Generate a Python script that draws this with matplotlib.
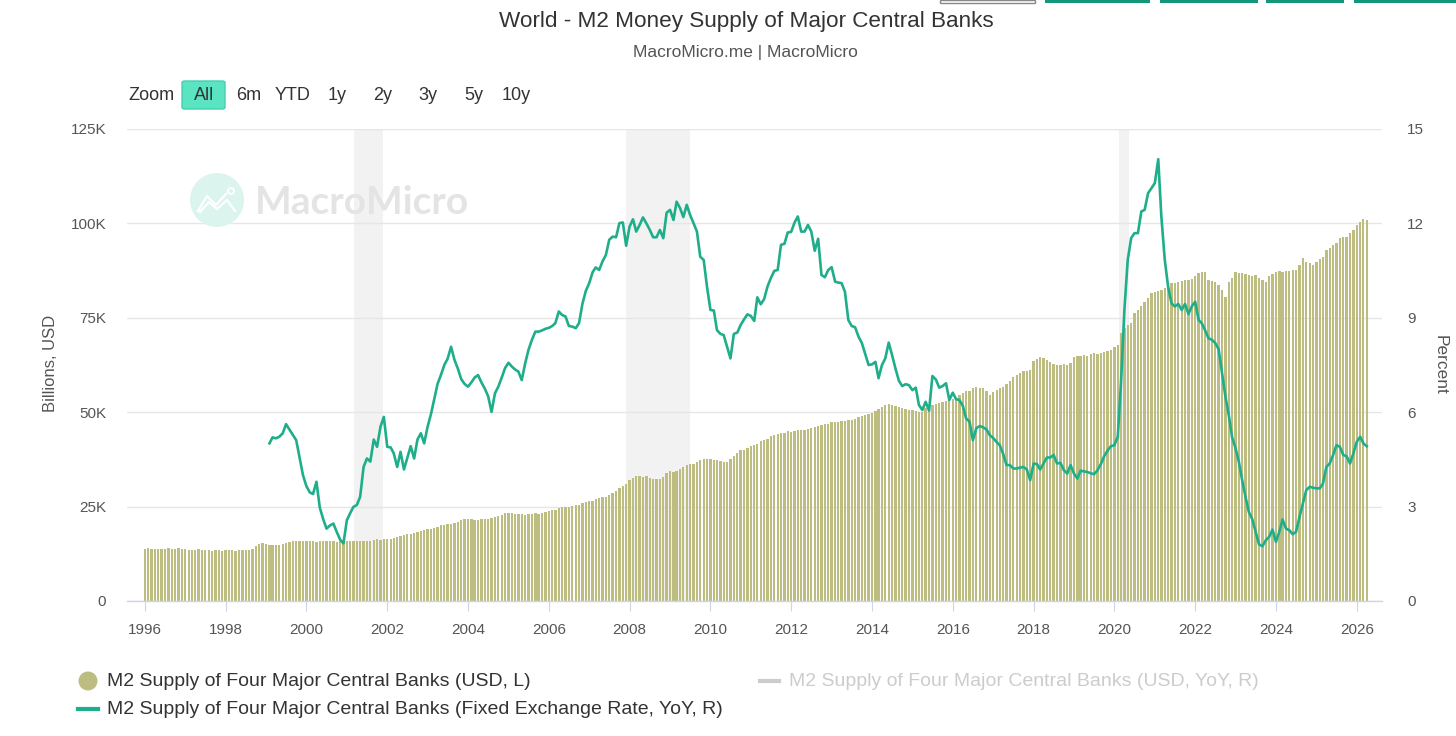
import matplotlib
matplotlib.use("Agg")
import matplotlib.pyplot as plt
import matplotlib.dates as mdates
from matplotlib.patches import Rectangle, Ellipse, FancyBboxPatch
from matplotlib.lines import Line2D
import numpy as np
import pandas as pd

plt.rcParams['font.family'] = ['Liberation Sans', 'DejaVu Sans']

# M2 of four major central banks, USD, thousands of billions, monthly from Jan 1996
m2_usd_k = [
    13.9, 14.0, 13.8, 13.9, 13.8, 13.9, 13.9, 14.0, 13.8, 13.9, 14.0, 13.9,  # 1996
    13.7, 13.6, 13.5, 13.6, 13.7, 13.5, 13.4, 13.5, 13.3, 13.4, 13.5, 13.3,  # 1997
    13.4, 13.5, 13.4, 13.3, 13.5, 13.4, 13.6, 13.5, 13.9, 14.6, 15.0, 15.4,  # 1998
    15.1, 14.8, 14.9, 14.8, 14.7, 15.0, 15.3, 15.6, 15.8, 16.0, 15.9, 16.0,  # 1999
    15.9, 15.8, 15.9, 15.7, 15.8, 15.9, 15.8, 15.9, 15.8, 15.7, 15.8, 15.9,  # 2000
    15.9, 15.8, 15.9, 15.8, 15.9, 15.9, 16.0, 16.0, 16.2, 16.3, 16.2, 16.4,  # 2001
    16.3, 16.4, 16.6, 16.9, 17.3, 17.6, 17.8, 17.7, 17.9, 18.2, 18.5, 18.8,  # 2002
    19.0, 19.2, 19.4, 19.6, 20.0, 20.2, 20.3, 20.4, 20.6, 21.0, 21.4, 21.7,  # 2003
    21.8, 21.6, 21.5, 21.4, 21.6, 21.7, 21.7, 22.0, 22.3, 22.5, 22.9, 23.2,  # 2004
    23.3, 23.2, 23.0, 23.1, 23.0, 22.9, 23.0, 23.1, 23.2, 23.0, 23.3, 23.5,  # 2005
    23.9, 24.1, 24.2, 24.5, 24.9, 24.8, 25.0, 25.2, 25.3, 25.5, 25.9, 26.3,  # 2006
    26.5, 26.6, 26.9, 27.3, 27.5, 27.6, 28.1, 28.6, 29.2, 29.8, 30.5, 30.9,  # 2007
    32.0, 32.6, 33.0, 33.1, 32.9, 33.0, 32.5, 32.3, 32.4, 32.3, 32.8, 33.8,  # 2008
    34.3, 34.1, 34.3, 34.9, 35.6, 36.0, 36.2, 36.4, 36.9, 37.3, 37.7, 37.5,  # 2009
    37.6, 37.4, 37.3, 37.2, 36.8, 36.9, 37.6, 38.4, 39.3, 39.9, 40.1, 40.4,  # 2010
    41.0, 41.4, 41.7, 42.5, 42.6, 42.8, 43.6, 44.0, 44.2, 44.4, 44.6, 44.9,  # 2011
    44.8, 45.0, 45.2, 45.3, 45.4, 45.6, 45.8, 46.1, 46.3, 46.5, 46.8, 47.0,  # 2012
    47.3, 47.5, 47.4, 47.7, 47.8, 47.9, 48.0, 48.3, 48.7, 49.0, 49.3, 49.6,  # 2013
    49.9, 50.4, 50.8, 51.3, 51.9, 52.2, 51.8, 51.6, 51.4, 51.0, 50.8, 50.6,  # 2014
    50.5, 50.2, 50.1, 50.0, 51.2, 51.9, 52.0, 52.2, 52.5, 52.6, 53.0, 53.2,  # 2015
    53.4, 53.6, 54.6, 55.0, 55.5, 55.7, 56.3, 56.7, 56.5, 56.3, 55.5, 54.6,  # 2016
    55.4, 55.9, 56.3, 56.6, 57.6, 58.3, 59.2, 59.8, 60.5, 60.9, 61.0, 61.3,  # 2017
    63.6, 64.2, 64.6, 64.3, 63.8, 63.2, 62.8, 62.6, 62.5, 62.7, 62.4, 62.9,  # 2018
    64.5, 64.8, 65.0, 65.2, 65.0, 65.4, 65.6, 65.3, 65.6, 66.0, 66.3, 66.5,  # 2019
    67.3, 67.8, 70.9, 72.2, 73.0, 73.6, 76.2, 77.0, 78.0, 79.3, 80.2, 81.5,  # 2020
    81.9, 82.2, 82.4, 82.8, 83.5, 84.2, 84.3, 84.6, 84.8, 85.0, 85.0, 85.2,  # 2021
    86.2, 86.8, 87.0, 87.2, 85.0, 84.8, 84.6, 83.7, 82.4, 80.6, 84.6, 85.5,  # 2022
    87.2, 86.8, 86.9, 86.5, 86.3, 86.1, 86.4, 85.5, 85.0, 84.6, 86.1, 86.6,  # 2023
    87.0, 87.5, 87.2, 87.4, 87.3, 87.6, 87.7, 89.0, 90.8, 89.9, 89.4, 89.0,  # 2024
    89.9, 90.5, 91.2, 93.0, 93.6, 94.2, 94.8, 96.1, 96.3, 96.4, 97.5, 98.3,  # 2025
    99.6, 100.5, 101.1, 100.9,                                               # 2026
]

# M2 YoY at fixed exchange rates, %, monthly from Feb 1999
m2_yoy_fixed = [
    5.01, 5.20, 5.17, 5.22, 5.33, 5.62, 5.45, 5.28, 5.11, 4.55, 4.00,  # 1999
    3.65, 3.45, 3.40, 3.79, 2.97, 2.60, 2.30, 2.40, 2.46, 2.20, 1.95, 1.83,  # 2000
    2.57, 2.80, 2.99, 3.05, 3.31, 4.26, 4.53, 4.43, 5.13, 4.90, 5.54, 5.85,  # 2001
    4.90, 4.88, 4.69, 4.26, 4.74, 4.18, 4.55, 4.92, 4.53, 5.13, 5.33, 5.01,  # 2002
    5.54, 5.95, 6.40, 6.90, 7.18, 7.50, 7.70, 8.08, 7.66, 7.39, 7.05, 6.90,  # 2003
    6.81, 6.95, 7.10, 7.18, 6.95, 6.75, 6.51, 6.01, 6.60, 6.81, 7.10, 7.40,  # 2004
    7.57, 7.45, 7.36, 7.29, 7.02, 7.55, 7.98, 8.30, 8.56, 8.56, 8.60, 8.65,  # 2005
    8.68, 8.74, 8.83, 9.20, 9.09, 9.04, 8.74, 8.72, 8.67, 8.83, 9.45, 9.85,  # 2006
    10.10, 10.45, 10.60, 10.52, 10.79, 11.00, 11.48, 11.58, 11.56, 12.01, 12.03, 11.29,  # 2007
    11.90, 12.13, 11.74, 11.95, 12.19, 12.00, 11.80, 11.56, 11.56, 11.79, 11.53, 12.34,  # 2008
    12.43, 12.11, 12.69, 12.49, 12.20, 12.59, 12.27, 12.01, 11.74, 10.94, 10.84, 9.99,  # 2009
    9.25, 9.23, 8.61, 8.49, 8.45, 8.08, 7.71, 8.49, 8.53, 8.77, 8.95, 9.11,  # 2010
    9.06, 8.90, 9.65, 9.43, 9.59, 9.99, 10.26, 10.49, 10.52, 11.32, 11.35, 11.71,  # 2011
    11.73, 12.03, 12.22, 11.74, 11.74, 11.95, 11.74, 11.13, 11.51, 10.36, 10.29, 10.52,  # 2012
    10.61, 10.15, 10.12, 10.10, 9.83, 8.93, 8.74, 8.70, 8.40, 8.20, 7.85, 7.50,  # 2013
    7.52, 7.60, 7.08, 7.50, 7.71, 8.21, 7.82, 7.39, 7.00, 6.83, 6.89, 6.86,  # 2014
    6.70, 6.78, 6.23, 6.07, 6.33, 6.05, 7.15, 7.04, 6.78, 6.83, 6.92, 6.39,  # 2015
    6.62, 6.41, 6.39, 6.20, 5.80, 5.70, 5.11, 5.49, 5.56, 5.52, 5.45, 5.27,  # 2016
    5.18, 5.05, 4.95, 4.67, 4.32, 4.32, 4.21, 4.21, 4.24, 4.26, 4.18, 3.84,  # 2017
    4.37, 4.35, 4.18, 4.37, 4.56, 4.56, 4.64, 4.37, 4.39, 4.16, 4.05, 4.32,  # 2018
    4.05, 3.89, 4.14, 4.12, 4.10, 4.06, 4.03, 4.15, 4.35, 4.60, 4.78, 4.92,  # 2019
    4.95, 5.22, 6.92, 9.25, 10.84, 11.53, 11.69, 11.69, 12.38, 12.43, 12.96, 13.12,  # 2020
    13.28, 14.04, 12.22, 10.84, 9.99, 9.46, 9.36, 9.44, 9.25, 9.44, 9.12, 9.36,  # 2021
    9.51, 8.93, 8.83, 8.60, 8.35, 8.30, 8.20, 8.00, 7.25, 6.50, 5.90, 5.20,  # 2022
    4.85, 4.40, 3.85, 3.31, 2.83, 2.60, 2.20, 1.80, 1.74, 1.93, 2.04, 2.27,  # 2023
    1.88, 2.20, 2.59, 2.30, 2.25, 2.12, 2.20, 2.67, 3.10, 3.52, 3.63, 3.60,  # 2024
    3.58, 3.58, 3.73, 4.26, 4.37, 4.64, 4.95, 4.90, 4.64, 4.60, 4.37, 4.69,  # 2025
    5.06, 5.22, 5.01, 4.92,  # 2026
]

recessions = [("2001-03-05", "2001-11-25"),
              ("2007-11-28", "2009-07-01"),
              ("2020-02-14", "2020-05-08")]

left_ticks = [0, 25000, 50000, 75000, 100000, 125000]
left_labels = ["0", "25K", "50K", "75K", "100K", "125K"]
right_ticks = [0, 3, 6, 9, 12, 15]
year_ticks = list(range(1996, 2027, 2))

bar_color = '#bdbd82'
line_color = '#1fae8a'
W, H = 1456, 736


def fx(x):
    return x / W


def fy(y):
    return 1 - y / H


bar_dates = mdates.date2num(pd.date_range("1996-01-01", periods=len(m2_usd_k), freq="MS"))
line_dates = mdates.date2num(pd.date_range("1999-02-01", periods=len(m2_yoy_fixed), freq="MS"))

fig = plt.figure(figsize=(W / 100, H / 100), dpi=100)
ax = fig.add_axes([fx(127), fy(601), fx(1382) - fx(127), fy(129) - fy(601)])
ax2 = ax.twinx()

for start, end in recessions:
    ax.axvspan(mdates.date2num(pd.Timestamp(start)), mdates.date2num(pd.Timestamp(end)),
               color='#f2f2f2', lw=0, zorder=0.2)

ax.bar(bar_dates, np.array(m2_usd_k) * 1000, width=21, color=bar_color, lw=0, zorder=2)
ax2.plot(line_dates, m2_yoy_fixed, color=line_color, lw=1.9, solid_joinstyle='round', zorder=3)

ax.set_xlim(mdates.date2num(pd.Timestamp("1995-07-24")), mdates.date2num(pd.Timestamp("2026-08-17")))
ax.set_ylim(0, 125000)
ax2.set_ylim(0, 15)
ax.set_yticks(left_ticks)
ax.set_yticklabels(left_labels)
ax2.set_yticks(right_ticks)
ax2.set_yticklabels([str(t) for t in right_ticks])
ax.set_xticks([mdates.date2num(pd.Timestamp(f"{y}-01-01")) for y in year_ticks])
ax.set_xticklabels([str(y) for y in year_ticks])

ax.set_axisbelow(True)
ax.yaxis.grid(True, color='#e6e6e6', lw=1)
for a in (ax, ax2):
    for s in ('top', 'left', 'right'):
        a.spines[s].set_visible(False)
ax2.spines['bottom'].set_visible(False)
ax.spines['bottom'].set_color('#ccd6eb')
ax.spines['bottom'].set_linewidth(1)

ax.tick_params(axis='x', length=7.5, width=0.8, color='#ccd6eb', labelcolor='#555555',
               labelsize=11, pad=8)
ax.tick_params(axis='y', length=0, labelcolor='#555555', labelsize=11, pad=15)
ax2.tick_params(axis='y', length=0, labelcolor='#555555', labelsize=11, pad=18)

fig.text(fx(50), fy(363), "Billions, USD", rotation=90, ha='center', va='center',
         fontsize=12, color='#555555')
fig.text(fx(1440), fy(365), "Percent", rotation=270, ha='center', va='center',
         fontsize=12.5, color='#555555')

# title and subtitle
fig.text(fx(746), fy(21), "World - M2 Money Supply of Major Central Banks", ha='center', va='center',
         fontsize=16.2, color='#333333')
fig.text(fx(745), fy(53), "MacroMicro.me | MacroMicro", ha='center', va='center',
         fontsize=12.5, color='#555555')

# range selector
fig.add_artist(FancyBboxPatch((fx(182), fy(109)), fx(43), 28 / H,
                              boxstyle="round,pad=0,rounding_size=0.002",
                              transform=fig.transFigure, facecolor='#5ae4c2',
                              edgecolor='#43d1b0', lw=1))
fig.text(fx(128), fy(95), "Zoom", ha='left', va='center', fontsize=13, color='#333333')
for label, cx in [("All", 204), ("6m", 249), ("YTD", 293), ("1y", 337), ("2y", 383),
                  ("3y", 428), ("5y", 474), ("10y", 516)]:
    fig.text(fx(cx), fy(95), label, ha='center', va='center', fontsize=13, color='#333333')

# cut-off buttons along the top edge
fig.add_artist(Rectangle((fx(940), fy(3)), fx(95), 3 / H, transform=fig.transFigure,
                         facecolor='white', edgecolor='#888888', lw=1))
for x0, x1 in [(1045, 1150), (1160, 1258), (1266, 1344), (1354, 1456)]:
    fig.add_artist(Rectangle((fx(x0), fy(3)), fx(x1 - x0), 3 / H, transform=fig.transFigure,
                             facecolor='#14967a', lw=0))

# watermark
fig.add_artist(Ellipse((fx(217), fy(200)), 54 / W, 54 / H, transform=fig.transFigure,
                       facecolor='#dcf4ee', lw=0, zorder=1))
fig.add_artist(Line2D([fx(198), fx(207), fx(216), fx(226)], [fy(211), fy(196), fy(205), fy(194)],
                      transform=fig.transFigure, color='white', lw=1.6, zorder=1.1))
fig.add_artist(Line2D([fx(200), fx(209), fx(217), fx(227), fx(235)],
                      [fy(212), fy(202), fy(209), fy(200), fy(211)],
                      transform=fig.transFigure, color='white', lw=1.6, zorder=1.1))
fig.add_artist(Ellipse((fx(231), fy(191)), 6 / W, 6 / H, transform=fig.transFigure,
                       facecolor='none', edgecolor='white', lw=1.4, zorder=1.1))
fig.text(fx(255), fy(202), "MacroMicro", ha='left', va='center', fontsize=28,
         fontweight='bold', family=['Lato', 'DejaVu Sans'], color='#e4e4e4', zorder=1)

# legend
fig.add_artist(Ellipse((fx(88), fy(681)), 19 / W, 19 / H, transform=fig.transFigure,
                       facecolor=bar_color, lw=0))
fig.text(fx(107), fy(681), "M2 Supply of Four Major Central Banks (USD, L)", ha='left', va='center',
         fontsize=14, color='#333333')
fig.add_artist(Line2D([fx(760), fx(779)], [fy(681), fy(681)], transform=fig.transFigure,
                      color='#cccccc', lw=3))
fig.text(fx(789), fy(681), "M2 Supply of Four Major Central Banks (USD, YoY, R)", ha='left',
         va='center', fontsize=14, color='#cccccc')
fig.add_artist(Line2D([fx(78), fx(98)], [fy(709), fy(709)], transform=fig.transFigure,
                      color=line_color, lw=3))
fig.text(fx(107), fy(709), "M2 Supply of Four Major Central Banks (Fixed Exchange Rate, YoY, R)",
         ha='left', va='center', fontsize=14, color='#333333')

fig.savefig("out.png", dpi=100)
